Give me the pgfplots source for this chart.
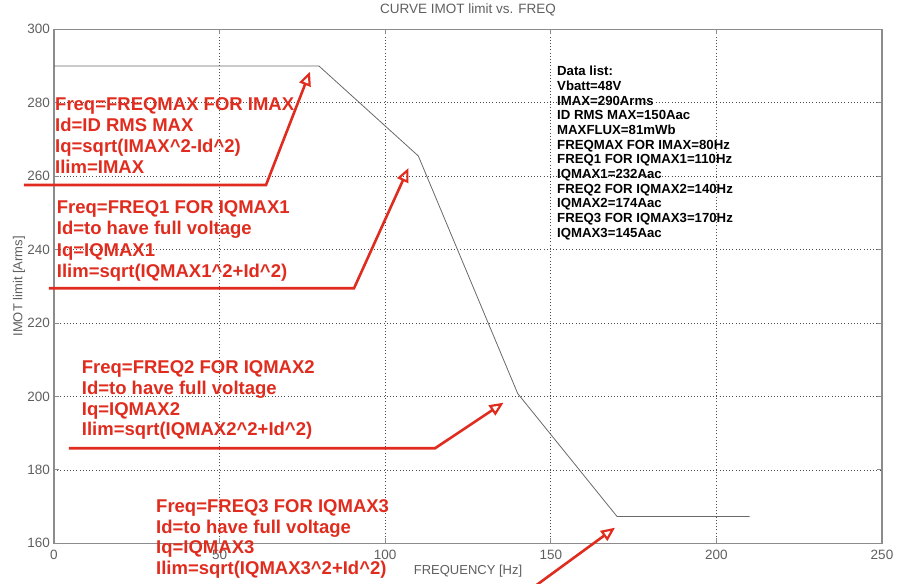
\documentclass[border=0pt]{standalone}
\usepackage{pgfplots}
\pgfplotsset{compat=1.18}
\usepackage{fontspec}
\setmainfont{Liberation Sans}
\usetikzlibrary{arrows.meta}
\definecolor{annred}{RGB}{224,44,30}
\definecolor{axgray}{RGB}{140,140,140}
\definecolor{lblgray}{RGB}{95,95,95}
\definecolor{curvegray}{RGB}{105,105,105}
\begin{document}
\begin{tikzpicture}
\begin{axis}[
  name=ax, at={(0,0)}, anchor=south west,
  scale only axis, width=828pt, height=514pt,
  xmin=0, xmax=250, ymin=160, ymax=300,
  xtick={0,50,...,250}, ytick={160,180,...,300},
  tick align=inside, major tick length=5pt,
  axis line style={axgray, line width=1.1pt},
  every tick/.style={axgray, line width=0.9pt},
  grid=major,
  major grid style={black!70, line width=0.7pt, dash pattern=on 1pt off 2.2pt},
  /pgf/number format/assume math mode=true,
  tick label style={font=\fontsize{13.5}{15}\selectfont, text=lblgray},
  yticklabel style={inner sep=0pt, anchor=east, xshift=-4pt},
  xticklabel style={inner sep=0pt, anchor=north, yshift=-7pt},
  title={CURVE IMOT limit vs. FREQ},
  title style={font=\fontsize{13.5}{15}\selectfont, text=lblgray, at={(axis description cs:0.5,1.0195)}, anchor=base, inner sep=0pt},
  xlabel={FREQUENCY [Hz]},
  xlabel style={font=\fontsize{13}{15}\selectfont, text=lblgray, at={(axis description cs:0.5,-0.061)}, anchor=base, inner sep=0pt},
  ylabel={IMOT limit [Arms]},
  ylabel style={font=\fontsize{13}{15}\selectfont, text=lblgray, at={(axis description cs:-0.0423,0.5)}, anchor=center, inner sep=0pt},
  clip=false,
]
\addplot[curvegray, line width=0.8pt] coordinates {
  (0,290) (80,290) (110,265.5) (140,200.8) (170,167.3) (210,167.3)
};
\end{axis}
\begin{scope}[x=1pt, y=-1pt, shift={(-54pt,543.3pt)}]
\tikzset{
  rtx/.style={anchor=base west, inner sep=0pt, text=annred, font=\fontsize{18.5}{21}\selectfont\bfseries},
  dtx/.style={anchor=base west, inner sep=0pt, text=black, font=\fontsize{13.2}{15}\selectfont\bfseries},
  rarr/.style={annred, line width=2.6pt, -{Triangle[open, length=14pt, width=12pt, line width=2.2pt]}},
}
% block 1
\node[rtx] at (55,110.7) {Freq=FREQMAX FOR IMAX};
\node[rtx] at (55,131.6) {Id=ID RMS MAX};
\node[rtx] at (55,152.5) {Iq=sqrt(IMAX\textasciicircum 2-Id\textasciicircum 2)};
\node[rtx] at (55,173.4) {Ilim=IMAX};
% block 2
\node[rtx] at (56.7,213.3) {Freq=FREQ1 FOR IQMAX1};
\node[rtx] at (56.7,234.8) {Id=to have full voltage};
\node[rtx] at (56.7,256.3) {Iq=IQMAX1};
\node[rtx] at (56.7,277.8) {Ilim=sqrt(IQMAX1\textasciicircum 2+Id\textasciicircum 2)};
% block 3
\node[rtx] at (81.7,374) {Freq=FREQ2 FOR IQMAX2};
\node[rtx] at (81.7,394.7) {Id=to have full voltage};
\node[rtx] at (81.7,415.4) {Iq=IQMAX2};
\node[rtx] at (81.7,436) {Ilim=sqrt(IQMAX2\textasciicircum 2+Id\textasciicircum 2)};
% block 4
\node[rtx] at (156,512.7) {Freq=FREQ3 FOR IQMAX3};
\node[rtx] at (156,533.4) {Id=to have full voltage};
\node[rtx] at (156,554) {Iq=IQMAX3};
\node[rtx] at (156,574.7) {Ilim=sqrt(IQMAX3\textasciicircum 2+Id\textasciicircum 2)};
% arrows
\draw[rarr] (24,185) -- (266,185) -- (310,71.7);
\draw[rarr] (49,288.3) -- (354,288.3) -- (408.5,168);
\draw[rarr] (69,448.3) -- (435,448.3) -- (503.5,402.7);
\draw[rarr] (527,592) -- (615,527.7);
% data list
\node[dtx] at (557,76.0) {Data list:};
\node[dtx] at (557,90.7) {Vbatt=48V};
\node[dtx] at (557,105.3) {IMAX=290Arms};
\node[dtx] at (557,120.0) {ID RMS MAX=150Aac};
\node[dtx] at (557,134.6) {MAXFLUX=81mWb};
\node[dtx] at (557,149.3) {FREQMAX FOR IMAX=80Hz};
\node[dtx] at (557,164.0) {FREQ1 FOR IQMAX1=110Hz};
\node[dtx] at (557,178.6) {IQMAX1=232Aac};
\node[dtx] at (557,193.3) {FREQ2 FOR IQMAX2=140Hz};
\node[dtx] at (557,207.9) {IQMAX2=174Aac};
\node[dtx] at (557,222.6) {FREQ3 FOR IQMAX3=170Hz};
\node[dtx] at (557,237.3) {IQMAX3=145Aac};
\end{scope}
\pgfresetboundingbox
\useasboundingbox (-54pt,-40.7pt) rectangle (844pt,543.3pt);
\end{tikzpicture}
\end{document}
